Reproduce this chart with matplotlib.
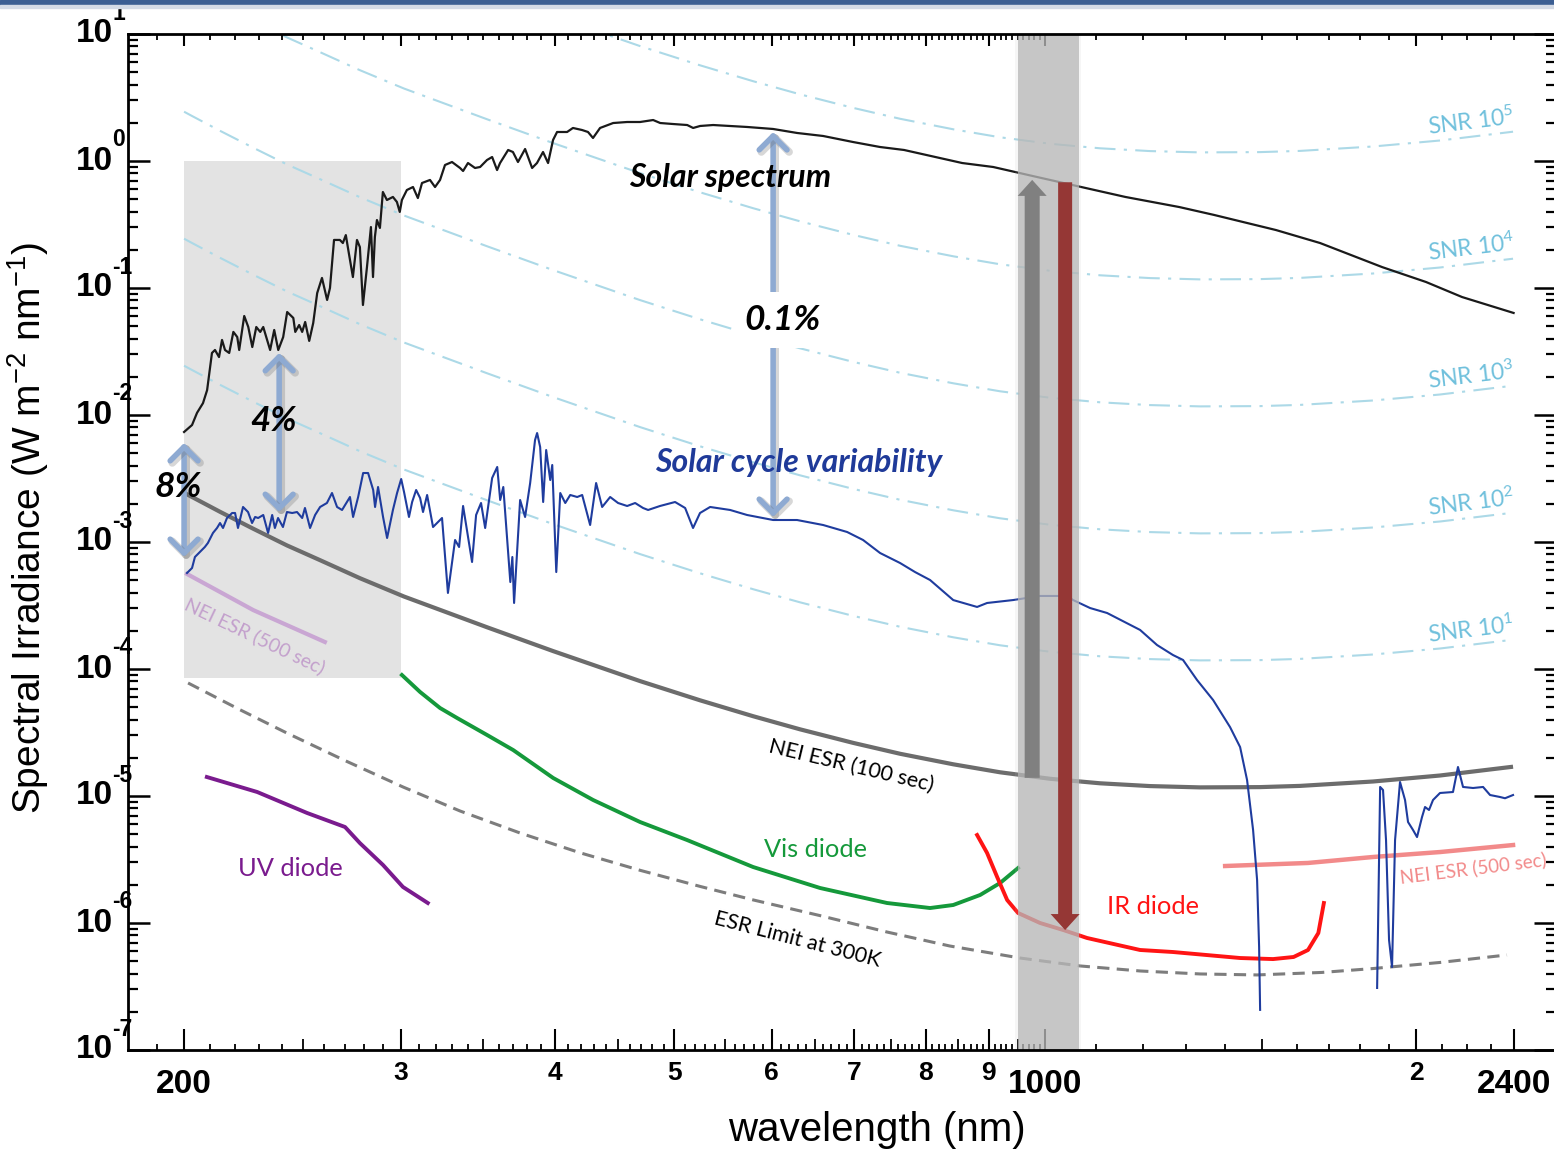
import numpy as np
import matplotlib
matplotlib.use("Agg")
import matplotlib.pyplot as plt
from matplotlib import font_manager
from matplotlib import patheffects
from matplotlib.ticker import FixedLocator, NullLocator, NullFormatter, FixedFormatter
from matplotlib.patches import Rectangle
from matplotlib.transforms import blended_transform_factory, offset_copy

# ---------------------------------------------------------------- data
# Solar spectral irradiance (W m-2 nm-1)
wl_sun = [200, 203.0, 204.9, 207.2, 208.8, 210.7, 211.9, 213.5, 214.7, 215.9, 217.6, 219.3,
          220.9, 221.7, 223.8, 225.5, 227.2, 228.9, 230.6, 231.9, 233.2, 234.9, 236.7, 238.5,
          240.7, 242.5, 245.3, 246.2, 248.0, 249.4, 250.8, 252.7, 254.6, 256.5, 258.8, 261.3,
          262.7, 264.7, 267.6, 269.1, 270.6, 272.1, 274.2, 276.3, 277.8, 279.4, 281.5, 283.6,
          284.7, 285.7, 286.8, 288.4, 290.0, 292.2, 295.5, 297.7, 299.3, 300.5, 303.3, 306.8,
          309.6, 312.0, 316.7, 319.7, 322.7, 325.7, 330.0, 335.0, 336.9, 340.0, 344.5, 347.8,
          352.3, 355.7, 359.0, 361.0, 366.5, 369.8, 373.3, 378.3, 383.3, 386.8, 391.2, 394.9,
          398.6, 401.6, 409.2, 413.7, 420.8, 425.5, 429.5, 435.2, 446.0, 457.8, 469.0, 480.6,
          487.0, 498.9, 512.2, 517.9, 524.7, 537.6, 572.9, 601.4, 629.0, 660.3, 698.3, 734.4,
          768.2, 856.3, 907.4, 985.0, 1069.8, 1161.8, 1284.8, 1371.3, 1539.4, 1671.6, 1877.6,
          2037.6, 2179.6, 2400]
solar = [7.35e-3, 8.34e-3, 1.04e-2, 1.24e-2, 1.57e-2, 3.08e-2, 3.25e-2, 2.86e-2, 3.90e-2,
         3.25e-2, 3.08e-2, 4.51e-2, 4.11e-2, 3.25e-2, 6.02e-2, 4.93e-2, 3.43e-2, 4.93e-2,
         4.51e-2, 4.93e-2, 4.11e-2, 3.25e-2, 4.67e-2, 3.25e-2, 4.11e-2, 6.47e-2, 5.81e-2,
         4.51e-2, 5.11e-2, 4.51e-2, 5.40e-2, 3.83e-2, 5.30e-2, 9.13e-2, 0.120, 8.05e-2, 0.100,
         0.239, 0.239, 0.226, 0.261, 0.189, 0.122, 0.239, 0.210, 7.35e-2, 0.146, 0.302, 0.122,
         0.252, 0.343, 0.297, 0.570, 0.493, 0.521, 0.476, 0.397, 0.493, 0.591, 0.624, 0.511,
         0.671, 0.709, 0.624, 0.709, 0.930, 0.982, 0.881, 0.834, 0.964, 0.881, 0.897, 1.018,
         1.075, 0.849, 0.964, 1.221, 1.177, 0.982, 1.243, 0.881, 0.964, 1.177, 0.964, 1.464,
         1.692, 1.692, 1.820, 1.754, 1.692, 1.518, 1.820, 1.991, 2.028, 2.028, 2.102, 1.991,
         1.955, 1.920, 1.820, 1.887, 1.920, 1.853, 1.787, 1.662, 1.574, 1.411, 1.289, 1.221,
         0.964, 0.897, 0.748, 0.624, 0.521, 0.434, 0.376, 0.286, 0.226, 0.146, 0.1115, 0.0849,
         0.0636]

# Solar cycle variability (W m-2 nm-1); NaN marks the gap where the curve drops out
wl_var = [201.1, 203.0, 204.1, 206.0, 207.9, 209.1, 211.1, 212.7, 213.9, 215.1, 216.7, 218.8,
          220.0, 221.2, 223.3, 225.4, 227.1, 228.4, 229.7, 231.9, 234.0, 235.8, 237.0, 238.4,
          240.6, 242.4, 244.8, 247.0, 249.4, 250.7, 253.1, 255.5, 257.9, 261.2, 263.7, 266.2,
          268.7, 272.7, 274.3, 276.9, 279.5, 282.1, 284.8, 285.8, 287.4, 290.1, 292.3, 295.5,
          297.8, 300.1, 301.7, 304.5, 306.3, 308.6, 310.9, 312.6, 315.0, 318.5, 323.9, 327.5,
          331.9, 334.4, 336.9, 342.6, 345.2, 348.4, 351.1, 355.7, 359.1, 361.1, 363.2, 368.0,
          369.4, 370.6, 374.8, 378.3, 381.9, 385.4, 386.9, 389.1, 391.3, 393.5, 396.5, 398.0,
          401.0, 404.0, 407.8, 411.6, 417.0, 420.9, 427.2, 432.0, 436.9, 443.5, 450.1, 457.8,
          464.7, 471.6, 476.1, 486.8, 500.7, 510.2, 517.8, 524.6, 534.6, 555.0, 572.8, 601.4,
          628.9, 660.3, 690.6, 711.5, 734.5, 762.5, 784.1, 806.4, 842.1, 880.5, 897.1, 941.7,
          990.5, 1041.8, 1053.6, 1087.6, 1122.7, 1194.1, 1232.5, 1269.7, 1293.9, 1328.2,
          1368.7, 1412.7, 1439.5, 1458.4, 1474.9, 1486.0, 1491.6, 1494.4, np.nan,
          1859.7, 1870.2, 1880.3, 1890.9, 1901.6, 1912.3, 1923.1, 1941.0, 1959.3, 1970.3,
          1988.8, 2003.7, 2022.5, 2033.9, 2049.1, 2064.5, 2091.6, 2143.0, 2163.1, 2183.6,
          2224.9, 2267.0, 2296.7, 2340.0, 2361.9, 2397.6]
variability = [5.70e-4, 6.24e-4, 7.62e-4, 8.34e-4, 9.13e-4, 9.82e-4, 1.178e-3, 1.289e-3,
               1.411e-3, 1.289e-3, 1.545e-3, 1.692e-3, 1.692e-3, 1.289e-3, 1.887e-3, 1.722e-3,
               1.411e-3, 1.574e-3, 1.545e-3, 1.632e-3, 1.178e-3, 1.632e-3, 1.289e-3, 1.545e-3,
               1.312e-3, 1.722e-3, 1.692e-3, 1.722e-3, 1.545e-3, 1.853e-3, 1.289e-3, 1.632e-3,
               1.887e-3, 2.028e-3, 2.431e-3, 1.887e-3, 1.787e-3, 2.261e-3, 1.574e-3, 2.261e-3,
               3.493e-3, 3.493e-3, 2.567e-3, 1.887e-3, 2.71e-3, 1.574e-3, 1.075e-3, 1.787e-3,
               2.431e-3, 3.133e-3, 2.476e-3, 1.574e-3, 2.065e-3, 2.567e-3, 2.221e-3, 1.722e-3,
               2.345e-3, 1.312e-3, 1.545e-3, 3.97e-4, 1.037e-3, 9.13e-4, 1.921e-3, 6.96e-4,
               1.632e-3, 2.028e-3, 1.289e-3, 3.19e-3, 3.897e-3, 2.142e-3, 2.71e-3, 4.84e-4,
               7.62e-4, 3.31e-4, 2.142e-3, 1.574e-3, 2.914e-3, 6.35e-3, 7.21e-3, 5.60e-3,
               2.065e-3, 5.30e-3, 3.077e-3, 4.04e-3, 5.80e-4, 2.431e-3, 2.028e-3, 2.345e-3,
               2.261e-3, 2.345e-3, 1.361e-3, 2.914e-3, 1.887e-3, 2.261e-3, 2.028e-3, 1.921e-3,
               2.028e-3, 1.853e-3, 1.787e-3, 1.921e-3, 2.065e-3, 1.853e-3, 1.289e-3, 1.692e-3,
               1.887e-3, 1.787e-3, 1.632e-3, 1.49e-3, 1.49e-3, 1.361e-3, 1.199e-3, 1.037e-3,
               8.19e-4, 6.83e-4, 5.80e-4, 5.02e-4, 3.49e-4, 3.08e-4, 3.31e-4, 3.49e-4, 3.76e-4,
               3.76e-4, 3.49e-4, 3.02e-4, 2.76e-4, 2.03e-4, 1.545e-4, 1.289e-4, 1.178e-4,
               8.19e-5, 5.70e-5, 3.49e-5, 2.43e-5, 1.336e-5, 5.40e-6, 2.18e-6, 6.47e-7, 2.07e-7,
               np.nan,
               3.08e-7, 1.178e-5, 1.115e-5, 4.50e-6, 7.35e-7, 4.50e-7, 4.50e-6, 1.289e-5,
               9.30e-6, 6.24e-6, 5.40e-6, 4.75e-6, 6.83e-6, 8.19e-6, 7.76e-6, 9.30e-6, 1.056e-5,
               1.075e-5, 1.692e-5, 1.178e-5, 1.156e-5, 1.178e-5, 1.018e-5, 9.82e-6, 9.60e-6,
               1.018e-5]

# ESR noise-equivalent irradiance, 100 s integration
wl_nei = [200, 203.0, 213.9, 227.6, 242.4, 257.9, 277.8, 301.7, 352.4, 398.7, 469.0, 524.6,
          579.3, 632.4, 698.4, 762.5, 842.1, 919.2, 1009.6, 1108.1, 1216.5, 1335.7, 1494.4,
          1610.2, 1845.9, 2091.6, 2397.6]
nei_100 = [2.444e-3, 2.261e-3, 1.729e-3, 1.272e-3, 9.40e-4, 7.19e-4, 5.19e-4, 3.72e-4,
           2.13e-4, 1.383e-4, 8.03e-5, 5.67e-5, 4.25e-5, 3.35e-5, 2.62e-5, 2.15e-5, 1.777e-5,
           1.537e-5, 1.366e-5, 1.259e-5, 1.197e-5, 1.169e-5, 1.175e-5, 1.201e-5, 1.301e-5,
           1.450e-5, 1.701e-5]

# ESR noise-equivalent irradiance, 500 s integration (UV and IR segments)
wl_nei500_uv = [201.1, 227.6, 260.2]
nei500_uv = [5.60e-4, 2.91e-4, 1.632e-4]
wl_nei500_ir = [1399.8, 1634.4, 1845.9, 2091.6, 2397.6]
nei500_ir = [2.81e-6, 2.97e-6, 3.31e-6, 3.62e-6, 4.11e-6]

# ESR detection limit at 300 K
wl_esr = [201.5, 222.1, 242.4, 270.2, 301.1, 335.0, 374.8, 419.3, 469.0, 524.6, 579.3, 656.6,
          744.1, 836.7, 954.1, 1067.4, 1194.1, 1335.7, 1486.0, 1676.5, 1845.9, 2091.6, 2370.5]
esr_300k = [7.76e-5, 4.77e-5, 3.13e-5, 1.90e-5, 1.178e-5, 7.62e-6, 5.11e-6, 3.57e-6, 2.60e-6,
            1.942e-6, 1.520e-6, 1.143e-6, 8.49e-7, 6.59e-7, 5.30e-7, 4.59e-7, 4.19e-7, 3.97e-7,
            3.90e-7, 4.08e-7, 4.38e-7, 4.89e-7, 5.60e-7]

# Photodiode noise levels
wl_uv = [208.7, 229.3, 251.7, 270.2, 277.8, 290.1, 301.1, 315.4]
uv_diode = [1.411e-5, 1.075e-5, 7.35e-6, 5.70e-6, 4.26e-6, 2.86e-6, 1.921e-6, 1.437e-6]
wl_vis = [300.5, 310.9, 322.7, 333.2, 352.4, 370.0, 398.7, 429.6, 469.0, 512.1, 579.3, 656.6,
          744.1, 806.4, 842.1, 885.5, 919.2, 950.6]
vis_diode = [8.97e-5, 6.59e-5, 4.93e-5, 4.11e-5, 3.02e-5, 2.30e-5, 1.386e-5, 9.30e-6, 6.24e-6,
             4.50e-6, 2.76e-6, 1.886e-6, 1.437e-6, 1.312e-6, 1.386e-6, 1.662e-6, 2.065e-6,
             2.71e-6]
wl_ir = [880.5, 897.1, 914.2, 931.4, 950.6, 990.5, 1034.1, 1081.4, 1194.1, 1269.7, 1439.5,
         1531.1, 1590.9, 1634.4, 1666.2, 1683.5]
ir_diode = [4.93e-6, 3.56e-6, 2.30e-6, 1.517e-6, 1.199e-6, 1.0e-6, 8.81e-7, 7.62e-7, 6.13e-7,
            5.91e-7, 5.30e-7, 5.20e-7, 5.40e-7, 6.13e-7, 8.34e-7, 1.437e-6]

# Signal-to-noise contours relative to the 100 s noise level
snr_exponents = [1, 2, 3, 4, 5]

# Axis ticks
x_major = [200, 1000, 2400]
x_major_labels = ["200", "1000", "2400"]
x_inner = [300, 400, 500, 600, 700, 800, 900, 2000]
x_inner_labels = ["3", "4", "5", "6", "7", "8", "9", "2"]
x_medium = [250, 350, 450, 550, 650, 750, 850, 950, 1500]
x_minor = ([190] + [w for w in range(210, 1000, 10) if w % 50]
           + [1100, 1200, 1300, 1400, 1600, 1700, 1800, 1900, 2100, 2200, 2300])
y_decades = [-7, -6, -5, -4, -3, -2, -1, 0, 1]

# ---------------------------------------------------------------- fonts
installed = {f.name for f in font_manager.fontManager.ttflist}
label_font = "Liberation Sans"
note_font = "Lato" if "Lato" in installed else "DejaVu Sans"

plt.rcParams["mathtext.fontset"] = "custom"
plt.rcParams["mathtext.rm"] = label_font
plt.rcParams["mathtext.bf"] = label_font + ":bold"
plt.rcParams["mathtext.it"] = label_font + ":italic"

PX = 72.0 / 100.0  # points per pixel at 100 dpi

# ---------------------------------------------------------------- figure
W, H = 1554, 1151
fig = plt.figure(figsize=(W / 100, H / 100), dpi=100)
fig.patches.append(Rectangle((0, 1 - 5 / H), 1, 5 / H, transform=fig.transFigure,
                             color="#3b5e93", zorder=10))
fig.patches.append(Rectangle((0, 1 - 8 / H), 1, 3 / H, transform=fig.transFigure,
                             color="#d3dae6", zorder=10))

ax = fig.add_axes([128 / W, 1 - 1050 / H, 1428 / W, 1016 / H])
ax.set_xscale("log")
ax.set_yscale("log")
ax.set_xlim(180.1, 2598)
ax.set_ylim(1e-7, 10)

# shaded UV window
ax.add_patch(Rectangle((200, 8.5e-5), 100, 1.0 - 8.5e-5, facecolor="#e3e3e3",
                       edgecolor="none", zorder=0.5))

# SNR contours
nei_arr = np.array(nei_100)
for e in snr_exponents:
    ax.plot(wl_nei, nei_arr * 10.0 ** e, color="#acd9e7", lw=1.5,
            linestyle=(0, (10, 4, 1.5, 4)), zorder=1)

# curves
ax.plot(wl_esr, esr_300k, color="#7d7d7d", lw=2.2, linestyle=(0, (4.0, 2.4)), zorder=2)
ax.plot(wl_nei, nei_100, color="#6c6c6c", lw=3.0, zorder=2, solid_capstyle="butt")
ax.plot(wl_nei500_uv, nei500_uv, color="#c9a6d3", lw=3.0, zorder=2)
ax.plot(wl_nei500_ir, nei500_ir, color="#f28a8a", lw=3.2, zorder=2)
ax.plot(wl_uv, uv_diode, color="#7a1b8e", lw=2.8, zorder=2)
ax.plot(wl_vis, vis_diode, color="#15993b", lw=2.8, zorder=2)
ax.plot(wl_ir, ir_diode, color="#ff1414", lw=2.8, zorder=2)
ax.plot(wl_var, variability, color="#1f3c9e", lw=1.5, zorder=2.2, solid_joinstyle="round")
ax.plot(wl_sun, solar, color="#1a1a1a", lw=1.6, zorder=2.3, solid_joinstyle="round")

# 1000 nm overlap band with soft edges
ax.axvspan(950, 1065, color="#b8b8b8", alpha=0.75, lw=0, zorder=3)
ax.axvspan(946, 1070, color="#b8b8b8", alpha=0.12, lw=0, zorder=3)

# variability arrows with a soft drop shadow
blue_arrow = dict(arrowstyle="<->,head_length=0.5,head_width=0.5", lw=4.0,
                  color="#8eaad2", shrinkA=0, shrinkB=0, mutation_scale=20)
arrow_shadow = [patheffects.SimpleLineShadow(offset=(1.5, -1.5), shadow_color="#606060",
                                             alpha=0.25, linewidth=5.5),
                patheffects.Normal()]
for xa, ytop, ybot in [(200, 6.02e-3, 7.62e-4), (238.9, 3.08e-2, 1.72e-3),
                       (601.4, 1.69, 1.574e-3)]:
    ann = ax.annotate("", xy=(xa, ytop), xytext=(xa, ybot), arrowprops=blue_arrow, zorder=4)
    ann.arrow_patch.set_path_effects(arrow_shadow)

# range arrows across the overlap band
ax.annotate("", xy=(976, 0.71), xytext=(976, 1.39e-5),
            arrowprops=dict(width=15 * PX, headwidth=29 * PX, headlength=16 * PX,
                            facecolor="#808080", edgecolor="none", shrink=0), zorder=4)
ax.annotate("", xy=(1038, 8.8e-7), xytext=(1038, 0.68),
            arrowprops=dict(width=14 * PX, headwidth=29 * PX, headlength=16 * PX,
                            facecolor="#953735", edgecolor="none", shrink=0), zorder=4)

# ---------------------------------------------------------------- annotations
bi = dict(family=note_font, weight="bold", style="italic", ha="center", va="center", zorder=5)
ax.text(555, 0.748, "Solar spectrum", fontsize=23, color="black", **bi)
ax.text(631.4, 4.19e-3, "Solar cycle variability", fontsize=23, color="#1f3a99", **bi)
ax.text(612.7, 0.056, "0.1%", fontsize=25.5, color="black",
        bbox=dict(facecolor="white", edgecolor="none", pad=9), **bi)
ax.text(236.2, 8.97e-3, "4%", fontsize=25, color="black", **bi)
ax.text(197.8, 2.71e-3, "8%", fontsize=25.5, color="black", **bi)

rg = dict(family=note_font, ha="center", va="center", rotation_mode="anchor", zorder=5)
ax.text(695.8, 1.72e-5, "NEI ESR (100 sec)", fontsize=15.5, rotation=-13.5, color="black", **rg)
ax.text(628.9, 7.35e-7, "ESR Limit at 300K", fontsize=15.5, rotation=-14.5, color="black", **rg)
ax.text(651.5, 3.76e-6, "Vis diode", fontsize=18.3, color="#15993b", **rg)
ax.text(243.9, 2.71e-6, "UV diode", fontsize=18.3, color="#7a1b8e", **rg)
ax.text(1223.2, 1.337e-6, "IR diode", fontsize=18.3, color="#ff1414", **rg)
ax.text(2224.9, 2.71e-6, "NEI ESR (500 sec)", fontsize=13.5, rotation=7, color="#f28a8a", **rg)
ax.text(228.4, 1.82e-4, "NEI ESR (500 sec)", fontsize=14, rotation=-25.5, color="#c3a0cc", **rg)

snr_label_y = [2.03e-4, 2.03e-3, 2.03e-2, 0.2065, 2.03]
for e, yv in zip(snr_exponents, snr_label_y):
    ax.text(2216, yv, r"SNR 10$\mathregular{^{%d}}$" % e, fontsize=16.5, rotation=7,
            color="#6fc0dc", family=note_font, ha="center", va="center",
            rotation_mode="anchor", zorder=5)

# ---------------------------------------------------------------- axes styling
for side in ["left", "bottom", "top", "right"]:
    ax.spines[side].set_linewidth(2.0)
    ax.spines[side].set_zorder(6)

# bottom major ticks with large labels
ax.xaxis.set_major_locator(FixedLocator(x_major))
ax.xaxis.set_major_formatter(FixedFormatter(x_major_labels))
ax.xaxis.set_minor_locator(FixedLocator(x_minor))
ax.xaxis.set_minor_formatter(NullFormatter())
ax.tick_params(axis="x", which="major", direction="in", length=21 * PX, width=1.5,
               top=False, pad=19 * PX, labelsize=24)
ax.tick_params(axis="x", which="minor", direction="in", length=6 * PX, width=1.3, top=False)
for lab in ax.get_xticklabels():
    lab.set_family(label_font)
    lab.set_fontweight("bold")

# bottom inner decade ticks with small labels
sec_in = ax.secondary_xaxis("bottom")
sec_in.set_xticks(x_inner, labels=x_inner_labels)
sec_in.xaxis.set_minor_locator(NullLocator())
sec_in.tick_params(axis="x", which="major", direction="in", length=21 * PX, width=1.5,
                   pad=11 * PX, labelsize=19)
for lab in sec_in.get_xticklabels():
    lab.set_family(label_font)
    lab.set_fontweight("bold")
for s in sec_in.spines.values():
    s.set_visible(False)

# bottom medium ticks
sec_mid = ax.secondary_xaxis("bottom")
sec_mid.set_xticks(x_medium, labels=[""] * len(x_medium))
sec_mid.xaxis.set_minor_locator(NullLocator())
sec_mid.tick_params(axis="x", which="major", direction="in", length=11 * PX, width=1.3)
for s in sec_mid.spines.values():
    s.set_visible(False)

# top ticks
sec_top = ax.secondary_xaxis("top")
sec_top.set_xticks(x_major[:2] + x_inner, labels=[""] * (2 + len(x_inner)))
sec_top.xaxis.set_minor_locator(FixedLocator(x_minor + x_medium + [2400]))
sec_top.xaxis.set_minor_formatter(NullFormatter())
sec_top.tick_params(axis="x", which="major", direction="in", length=12 * PX, width=1.5)
sec_top.tick_params(axis="x", which="minor", direction="in", length=6 * PX, width=1.3)
for s in sec_top.spines.values():
    s.set_visible(False)

# y ticks; decade labels are set as a base with a raised exponent
ax.yaxis.set_major_locator(FixedLocator([10.0 ** d for d in y_decades]))
ax.yaxis.set_major_formatter(NullFormatter())
ax.yaxis.set_minor_locator(FixedLocator([m * 10.0 ** d for d in y_decades[:-1] for m in range(2, 10)]))
ax.yaxis.set_minor_formatter(NullFormatter())
ax.tick_params(axis="y", which="major", direction="in", length=22 * PX, width=1.8, right=True)
ax.tick_params(axis="y", which="minor", direction="in", length=10 * PX, width=1.6, right=True)

ylab_tr = blended_transform_factory(ax.transAxes, ax.transData)
exp_tr = offset_copy(ylab_tr, fig=fig, x=0, y=21, units="dots")
x_base = -15.0 / 1428.0
for d in y_decades:
    ax.text(x_base, 10.0 ** d, "10", transform=ylab_tr, ha="right", va="center",
            family=label_font, weight="bold", fontsize=24, clip_on=False)
    ax.text(x_base - 1.0 / 1428.0, 10.0 ** d, "%d" % d if d >= 0 else "-%d" % (-d),
            transform=exp_tr, ha="left", va="center", family=label_font, weight="bold",
            fontsize=16.5, clip_on=False)

fig.text(877 / W, 1 - 1130 / H, "wavelength (nm)", family=label_font, fontsize=29,
         ha="center", va="center")
fig.text(28 / W, 1 - 528 / H, "Spectral Irradiance (W m$^{-2}$ nm$^{-1}$)", family=label_font,
         fontsize=28, rotation=90, ha="center", va="center")

fig.savefig("out.png", dpi=100)
